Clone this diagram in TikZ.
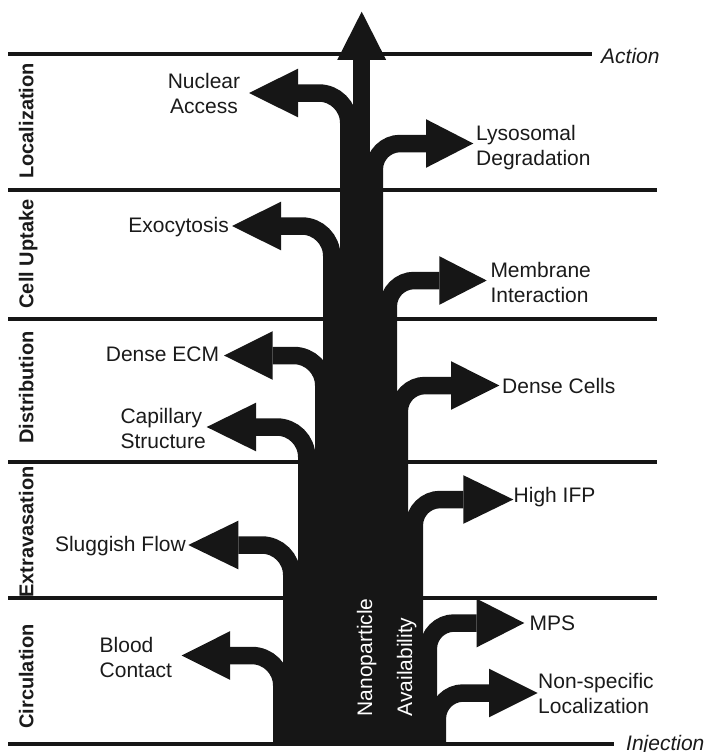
\documentclass[tikz,border=0pt]{standalone}
\usepackage{fontspec}
\setmainfont{Liberation Sans}
\usetikzlibrary{calc}
\definecolor{ink}{HTML}{161616}
\definecolor{txt}{HTML}{1A1A1A}
\newcommand\npbranch[6]{% name, x of trunk, y of branch, x of head base, x of tip, radius
  \coordinate (#1S) at (#2,744);
  \coordinate (#1B) at (#4,#3);
  \coordinate (#1T) at (#5,#3);
  \draw[shaftline=#6] (#1S) |- (#1B);
  \fill[tipfill] ($(#1B)+(0,-24.3)$) -- (#1T) -- ($(#1B)+(0,24.3)$) -- cycle;}
\begin{document}
\begin{tikzpicture}[x=1pt,y=-1pt,
  divider/.style={line width=4.2pt, draw=ink},
  shaftline/.style={line width=17.5pt, draw=ink, rounded corners=#1},
  tipfill/.style={fill=ink},
  lbl/.style={font=\fontsize{21}{25}\selectfont, text=txt, inner sep=0pt},
  ital/.style={lbl, font=\fontsize{21}{25}\selectfont\itshape},
  sect/.style={font=\fontsize{20}{24}\selectfont\bfseries, text=txt, inner sep=0pt, rotate=90, anchor=base},
  wlbl/.style={font=\fontsize{21}{25}\selectfont, text=white, inner sep=0pt, rotate=90, anchor=base west},
]
\useasboundingbox (0,0) rectangle (707,752);

% stage dividers
\draw[divider] (8,54) -- (592,54);
\draw[divider] (8,190) -- (657,190);
\draw[divider] (8,319) -- (657,319);
\draw[divider] (8,462) -- (657,462);
\draw[divider] (8,598) -- (657,598);
\draw[divider] (8,744) -- (614,744);

% left branches
\npbranch{nuc}{348.75}{93}{298}{249}{30pt}
\npbranch{exo}{331.75}{226}{281}{232}{30pt}
\npbranch{ecm}{323.75}{355.5}{272.7}{224}{30pt}
\npbranch{cap}{306.75}{427}{256}{206.7}{30pt}
\npbranch{slu}{291.75}{545}{238.3}{188.3}{30pt}
\npbranch{blo}{281.75}{655.5}{230}{181.7}{30pt}
% right branches
\npbranch{lys}{374.25}{143.5}{426}{473.3}{26pt}
\npbranch{mem}{388.25}{280.5}{439.3}{486.7}{26pt}
\npbranch{dce}{399.25}{385.5}{451}{499.3}{26pt}
\npbranch{ifp}{414.25}{499.5}{463.3}{513.3}{26pt}
\npbranch{mps}{428.25}{623}{476.7}{524.3}{26pt}
\npbranch{nsp}{437.25}{693}{489}{537.7}{26pt}
% central arrow
\coordinate (actS) at (361.7,744);
\coordinate (actB) at (361.7,60);
\coordinate (actT) at (361.7,11.7);
\draw[shaftline=0pt] (actS) -- (actB);
\fill[tipfill] ($(actB)+(-24.5,0)$) -- (actT) -- ($(actB)+(24.5,0)$) -- cycle;

% labels
\node[lbl, align=center, anchor=north] (tNuc) at (204,73.3) {Nuclear\\Access};
\node[lbl, anchor=base east] (tExo) at (229,232) {Exocytosis};
\node[lbl, align=left, anchor=north west] (tLys) at (476,125) {Lysosomal\\Degradation};
\node[lbl, align=left, anchor=north west] (tMem) at (490.3,261.7) {Membrane\\Interaction};
\node[lbl, anchor=base east] (tEcm) at (219.3,361.7) {Dense ECM};
\node[lbl, align=left, anchor=north west] (tCap) at (120.3,408.3) {Capillary\\Structure};
\node[lbl, anchor=base west] (tDce) at (502,393.3) {Dense Cells};
\node[lbl, anchor=base west] (tIfp) at (513.5,502.7) {High IFP};
\node[lbl, anchor=base east] (tSlu) at (186,551.7) {Sluggish Flow};
\node[lbl, align=left, anchor=north west] (tBlo) at (99.5,636.7) {Blood\\Contact};
\node[lbl, anchor=base west] (tMps) at (529.3,630) {MPS};
\node[lbl, align=left, anchor=north west] (tNsp) at (538,673.3) {Non-specific\\Localization};
\node[ital, anchor=base west] (tAct) at (601,63.3) {Action};
\node[ital, anchor=base west] (tInj) at (626,750.5) {Injection};

% stage names
\node[sect] (sLoc) at (33.3,121) {Localization};
\node[sect] (sCel) at (33.3,254) {Cell Uptake};
\node[sect] (sDis) at (33.3,387.5) {Distribution};
\node[sect] (sExt) at (33.3,532) {Extravasation};
\node[sect] (sCir) at (33.3,676.5) {Circulation};

% trunk text
\node[wlbl] (tNano) at (372,716.5) {Nanoparticle};
\node[wlbl] (tAvai) at (412,716.5) {Availability};
\end{tikzpicture}
\end{document}
